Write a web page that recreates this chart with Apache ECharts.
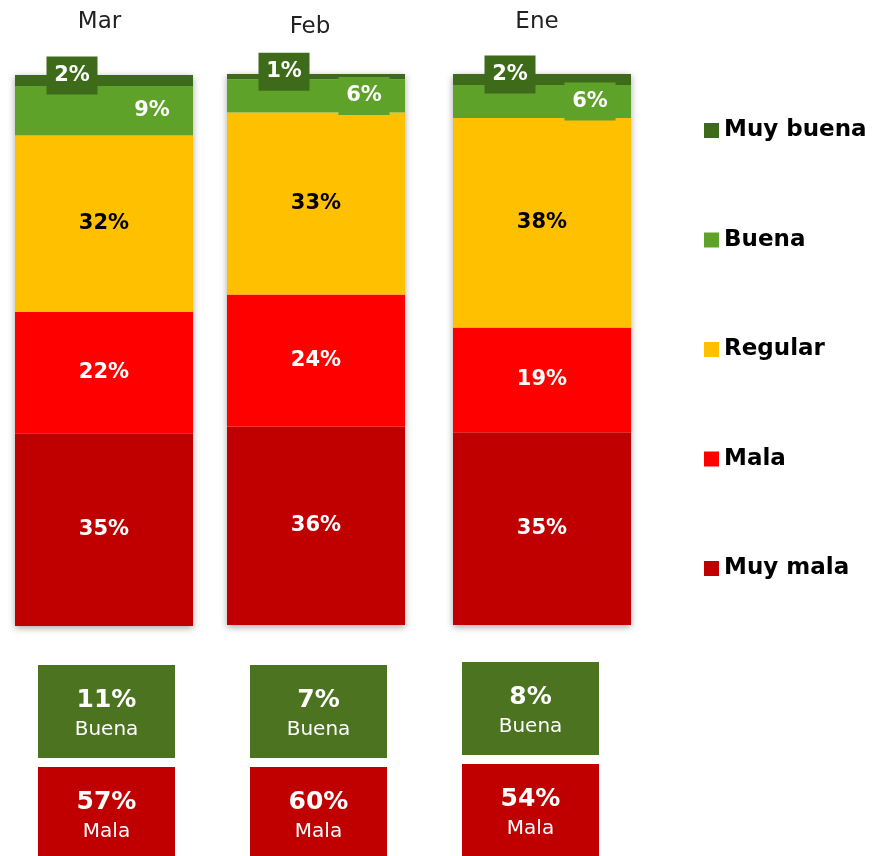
<!DOCTYPE html>
<html>
<head>
<meta charset="utf-8">
<script src="https://cdn.jsdelivr.net/npm/echarts@6/dist/echarts.min.js"></script>
<style>
  html, body { margin: 0; padding: 0; background: #fff; }
  #chart { width: 875px; height: 856px; }
</style>
</head>
<body>
<div id="chart"></div>
<script>
// datos por mes (porcentajes)
const months = ['Mar', 'Feb', 'Ene'];
const muyBuena = [2, 1, 2];
const buena = [9, 6, 6];
const regular = [32, 33, 38];
const mala = [22, 24, 19];
const muyMala = [35, 36, 35];
// totales de las cajas de abajo
const buenaTotal = [11, 7, 8];
const malaTotal = [57, 60, 54];

const FONT = 'DejaVu Sans';
const colors = {
  'Muy buena': '#3E6B1A',
  'Buena': '#5EA22A',
  'Regular': '#FFC000',
  'Mala': '#FF0000',
  'Muy mala': '#C00000'
};

// posicion de cada barra (cada mes en su propio grid)
const gridLeft = [15, 227, 453];
const gridTop = [75, 74, 74];
const gridHeight = 551;
const barW = 178;
const titleMargin = [41, 35, 40];
const titleShift = [9, 12, 10]; // el titulo va un poco a la izquierda

const grids = [], xAxes = [], yAxes = [], series = [];

months.forEach((m, i) => {
  grids.push({ left: gridLeft[i], top: gridTop[i], width: barW, height: gridHeight });
  xAxes.push({
    gridIndex: i,
    type: 'category',
    data: [m],
    position: 'top',
    axisLine: { show: false },
    axisTick: { show: false },
    axisLabel: {
      margin: titleMargin[i], fontSize: 23, color: '#222', fontFamily: FONT,
      padding: [0, titleShift[i], 0, 0]
    }
  });
  yAxes.push({ gridIndex: i, type: 'value', min: 0, max: 100, show: false });

  // sombra detras de la barra
  series.push({
    type: 'bar',
    name: 'sombra' + i,
    xAxisIndex: i, yAxisIndex: i,
    data: [100],
    barWidth: '100%',
    barGap: '-100%',
    silent: true,
    z: 1,
    itemStyle: { color: '#fff', shadowBlur: 7, shadowColor: 'rgba(0,0,0,0.35)', shadowOffsetY: 2 }
  });

  const parts = [
    ['Muy mala', muyMala, '#fff', null],
    ['Mala', mala, '#fff', null],
    ['Regular', regular, '#000', null],
    ['Buena', buena, '#fff', [48, 0]],
    ['Muy buena', muyBuena, '#fff', [-32, -5]]
  ];
  parts.forEach(([name, arr, txt, off]) => {
    const label = {
      show: true,
      position: 'inside',
      formatter: '{c}%',
      color: txt,
      fontSize: 21,
      fontWeight: 'bold',
      fontFamily: FONT
    };
    if (off) {
      label.offset = off;
      label.backgroundColor = colors[name];
      label.width = 51;
      label.height = 38;
      label.lineHeight = 38;
      label.align = 'center';
    }
    series.push({
      type: 'bar',
      name: name,
      stack: 'g' + i,
      xAxisIndex: i, yAxisIndex: i,
      data: [arr[i]],
      barWidth: '100%',
      barGap: '-100%',
      z: 2,
      itemStyle: { color: colors[name] },
      label: label
    });
  });
});

// cajas resumen
const boxLeft = [38, 250, 462];
const boxTop = [665, 665, 662];
const boxW = 137, boxH = 93, boxGap = 102;
const graphic = [];
months.forEach((m, i) => {
  const cx = boxLeft[i] + boxW / 2;
  [[buenaTotal[i], 'Buena', '#4B7320', boxTop[i]],
   [malaTotal[i], 'Mala', '#C00000', boxTop[i] + boxGap]].forEach(([v, lab, col, y]) => {
    graphic.push({ type: 'rect', shape: { x: boxLeft[i], y: y, width: boxW, height: boxH }, style: { fill: col } });
    graphic.push({ type: 'text', style: { text: v + '%', x: cx, y: y + 35, align: 'center', verticalAlign: 'middle', fill: '#fff', font: 'bold 25px ' + FONT } });
    graphic.push({ type: 'text', style: { text: lab, x: cx, y: y + 65, align: 'center', verticalAlign: 'middle', fill: '#fff', font: '20px ' + FONT } });
  });
});

const chart = echarts.init(document.getElementById('chart'));
chart.setOption({
  animation: false,
  grid: grids,
  xAxis: xAxes,
  yAxis: yAxes,
  legend: {
    data: ['Muy buena', 'Buena', 'Regular', 'Mala', 'Muy mala'],
    orient: 'vertical',
    left: 704,
    top: 119,
    padding: 0,
    icon: 'rect',
    itemWidth: 15,
    itemHeight: 15,
    itemGap: 86.5,
    itemTextGap: 8,
    selectedMode: false,
    textStyle: { fontSize: 23, fontWeight: 'bold', color: '#000', fontFamily: FONT, lineHeight: 23 }
  },
  series: series,
  graphic: graphic
});
</script>
</body>
</html>
